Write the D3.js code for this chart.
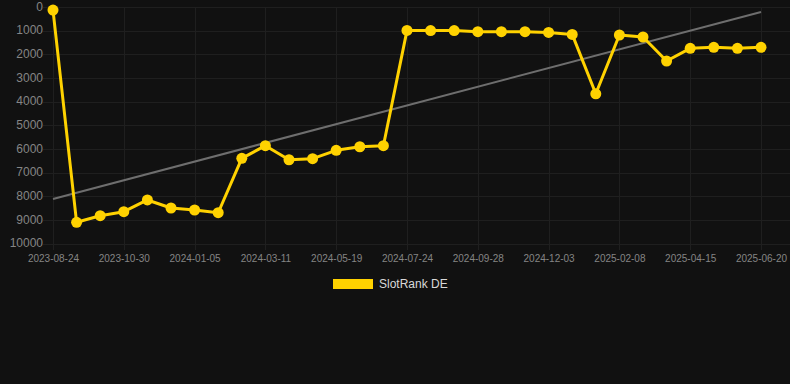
<!DOCTYPE html>
<html>
<head>
  <meta charset="utf-8">
  <title>SlotRank DE</title>
  <script src="https://d3js.org/d3.v7.min.js"></script>
  <style>
    html, body {
      margin: 0;
      padding: 0;
      background: #111111;
    }
    svg {
      display: block;
      font-family: "Liberation Sans", Arial, sans-serif;
    }
    .grid line {
      stroke: #1f1f1f;
      stroke-width: 1px;
      shape-rendering: crispEdges;
    }
    .axis path {
      display: none;
    }
    .axis line {
      display: none;
    }
    .y.axis text {
      fill: #858585;
      font-size: 12px;
    }
    .x.axis text {
      fill: #858585;
      font-size: 10px;
    }
    .line {
      fill: none;
      stroke: #ffd200;
      stroke-width: 3px;
      stroke-linejoin: round;
    }
    .trend {
      fill: none;
      stroke: #6e6e6e;
      stroke-width: 2px;
    }
    .dot {
      fill: #ffd200;
    }
    .legend text {
      fill: #d9d9d9;
      font-size: 12px;
    }
  </style>
</head>
<body>
  <script>
    var dates = [
      "2023-08-24", "2023-09-16", "2023-10-08", "2023-10-30", "2023-11-21",
      "2023-12-14", "2024-01-05", "2024-01-27", "2024-02-18", "2024-03-11",
      "2024-04-03", "2024-04-26", "2024-05-19", "2024-06-10", "2024-07-02",
      "2024-07-24", "2024-08-15", "2024-09-06", "2024-09-28", "2024-10-20",
      "2024-11-11", "2024-12-03", "2024-12-25", "2025-01-17", "2025-02-08",
      "2025-03-02", "2025-03-24", "2025-04-15", "2025-05-07", "2025-05-29",
      "2025-06-20"
    ];

    var ranks = [
      150, 9125, 8845, 8675, 8180, 8520, 8605, 8720, 6420, 5885,
      6480, 6435, 6080, 5930, 5885, 1010, 1020, 1020, 1065, 1065,
      1065, 1095, 1180, 3690, 1205, 1290, 2305, 1770, 1725, 1770,
      1725
    ];

    // trend line, read at first and last date
    var trendValues = [8140, 230];

    var yTicks = [0, 1000, 2000, 3000, 4000, 5000, 6000, 7000, 8000, 9000, 10000];
    var seriesName = "SlotRank DE";

    var width = 790, height = 384;
    var margin = {top: 6.5, right: 29, bottom: 141, left: 53};
    var innerW = width - margin.left - margin.right,
        innerH = height - margin.top - margin.bottom;

    var x = d3.scalePoint()
        .domain(dates)
        .range([0, innerW]);

    var y = d3.scaleLinear()
        .domain([0, 10000])
        .range([0, innerH]);

    var tickDates = dates.filter(function(d, i) { return i % 3 === 0; });

    var svg = d3.select("body").append("svg")
        .attr("width", width)
        .attr("height", height);

    var g = svg.append("g")
        .attr("transform", "translate(" + margin.left + "," + margin.top + ")");

    // grid
    g.append("g")
        .attr("class", "grid")
      .selectAll("line.h")
      .data(yTicks)
      .enter().append("line")
        .attr("x1", -10)
        .attr("x2", width - margin.left)
        .attr("y1", function(d) { return Math.round(y(d)) + 0.5; })
        .attr("y2", function(d) { return Math.round(y(d)) + 0.5; });

    g.append("g")
        .attr("class", "grid")
      .selectAll("line.v")
      .data(tickDates)
      .enter().append("line")
        .attr("x1", function(d) { return Math.round(x(d)) + 0.5; })
        .attr("x2", function(d) { return Math.round(x(d)) + 0.5; })
        .attr("y1", 0)
        .attr("y2", innerH + 7);

    // axes
    g.append("g")
        .attr("class", "y axis")
        .attr("transform", "translate(-10,0)")
        .call(d3.axisLeft(y).tickValues(yTicks).tickSize(0).tickPadding(0).tickFormat(d3.format("d")));

    g.append("g")
        .attr("class", "x axis")
        .attr("transform", "translate(0," + innerH + ")")
        .call(d3.axisBottom(x).tickValues(tickDates).tickSize(0).tickPadding(12));

    // trend
    var trendData = [
      {date: dates[0], value: trendValues[0]},
      {date: dates[dates.length - 1], value: trendValues[1]}
    ];

    g.append("path")
        .datum(trendData)
        .attr("class", "trend")
        .attr("d", d3.line()
          .x(function(d) { return x(d.date); })
          .y(function(d) { return y(d.value); }));

    // series
    var data = dates.map(function(d, i) { return {date: d, value: ranks[i]}; });

    g.append("path")
        .datum(data)
        .attr("class", "line")
        .attr("d", d3.line()
          .x(function(d) { return x(d.date); })
          .y(function(d) { return y(d.value); }));

    g.selectAll(".dot")
        .data(data)
        .enter().append("circle")
        .attr("class", "dot")
        .attr("cx", function(d) { return x(d.date); })
        .attr("cy", function(d) { return y(d.value); })
        .attr("r", 5.5);

    // legend
    var legend = svg.append("g")
        .attr("class", "legend")
        .attr("transform", "translate(333,279)");

    legend.append("rect")
        .attr("width", 40)
        .attr("height", 10)
        .attr("fill", "#ffd200");

    legend.append("text")
        .attr("x", 46)
        .attr("y", 5)
        .attr("dy", "0.35em")
        .text(seriesName);
  </script>
</body>
</html>
